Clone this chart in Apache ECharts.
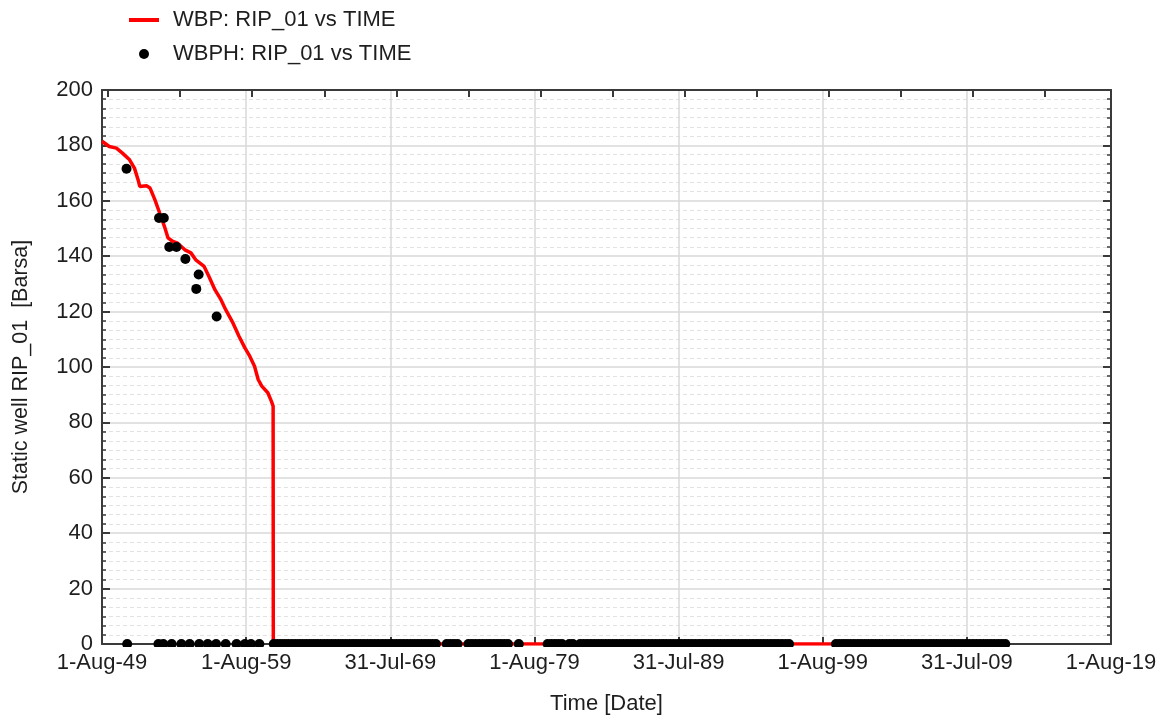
<!DOCTYPE html>
<html>
<head>
<meta charset="utf-8">
<script src="https://cdn.jsdelivr.net/npm/echarts@6/dist/echarts.min.js"></script>
<style>html,body{margin:0;padding:0;background:#fff}#c{width:1171px;height:720px}</style>
</head>
<body>
<div id="c"></div>
<script>
// ---- data ----
const xTickLabels = ['1-Aug-49','1-Aug-59','31-Jul-69','1-Aug-79','31-Jul-89','1-Aug-99','31-Jul-09','1-Aug-19'];
const xStartDate = '1949-08-01';
const xEndDate = '2019-08-01';
const yTicks = [0,20,40,60,80,100,120,140,160,180,200];

const wbpDates = ['1949-08-01','1950-02-01','1950-08-01','1951-01-01','1951-07-01','1951-11-01','1952-02-01','1952-03-15','1952-09-01','1952-12-01','1953-04-01','1953-08-01','1953-12-01','1954-03-01','1954-07-01','1954-11-01','1955-05-01','1955-10-01','1956-02-01','1956-09-01','1957-01-01','1957-06-01','1957-11-01','1958-03-01','1958-09-01','1959-02-01','1959-07-01','1959-11-01','1960-03-01','1960-06-01','1960-09-01','1961-02-01','1961-05-01','1961-06-15','1961-06-20','2012-06-01'];
const wbpValues = [181.5,179.6,179.0,177.2,174.8,171.8,167.6,165.2,165.4,164.6,160.4,155.6,150.7,146.6,145.3,144.7,142.3,141.2,138.7,136.3,132.7,127.9,124.3,120.7,115.9,111.1,106.9,103.9,100.3,95.5,93.1,90.7,87.7,85.9,0,0];

const wbphDates = ['1951-04-15','1953-07-15','1953-11-15','1954-04-01','1954-10-01','1955-05-15','1956-04-15','1956-02-15','1957-07-15'];
const wbphValues = [171.6,153.8,153.8,143.3,143.3,139.0,133.4,128.2,118.2];

// WBPH observations recorded as 0
const wbphZeroDates = [
'1951-05','1953-07','1953-11','1954-06','1955-02','1955-09','1956-05','1956-12','1957-07','1958-03','1958-12','1959-07','1959-12','1960-07',
'1961-07','1961-10',
'1962-01','1962-04','1962-07','1962-10','1963-01','1963-04','1963-07','1963-10',
'1964-01','1964-04','1964-07','1964-10','1965-01','1965-04','1965-07','1965-10',
'1966-01','1966-04','1966-07','1966-10','1967-01','1967-04','1967-07','1967-10',
'1968-01','1968-04','1968-07','1968-10','1969-01','1969-04','1969-07','1969-10',
'1970-01','1970-04','1970-07','1970-10','1971-01','1971-04','1971-07','1971-10',
'1972-01','1972-04','1972-07','1972-10',
'1973-07','1973-10','1974-01','1974-04',
'1975-01','1975-04','1975-07','1975-10','1976-01','1976-04','1976-07','1976-10','1977-01','1977-04','1977-07','1977-10',
'1978-07',
'1980-07','1980-10','1981-01','1981-04','1981-07','1982-01','1982-04',
'1982-10','1983-01','1983-04','1983-07','1983-10','1984-01','1984-04','1984-07','1984-10',
'1985-01','1985-04','1985-07','1985-10','1986-01','1986-04','1986-07','1986-10',
'1987-01','1987-04','1987-07','1987-10','1988-01','1988-04','1988-07','1988-10',
'1989-01','1989-04','1989-07','1989-10','1990-01','1990-04','1990-07','1990-10',
'1991-01','1991-04','1991-07','1991-10','1992-01','1992-04','1992-07','1992-10',
'1993-01','1993-04','1993-07','1993-10','1994-01','1994-04','1994-07','1994-10',
'1995-01','1995-04','1995-07','1995-10','1996-01','1996-04','1996-07','1996-10',
'1997-01','1997-04',
'2000-07','2000-10','2001-01','2001-04','2001-07','2001-10','2002-01','2002-04','2002-07','2002-10',
'2003-01','2003-04','2003-07','2003-10','2004-01','2004-04','2004-07','2004-10',
'2005-01','2005-04','2005-07','2005-10','2006-01','2006-04','2006-07','2006-10',
'2007-01','2007-04','2007-07','2007-10','2008-01','2008-04','2008-07','2008-10',
'2009-01','2009-04','2009-07','2009-10','2010-01','2010-04','2010-07','2010-10',
'2011-01','2011-04','2011-07','2011-10','2012-01','2012-04'
];

// top-axis tick dates (1 Jan every 5 years)
const topTickDates = ['1950-01-01','1955-01-01','1960-01-01','1965-01-01','1970-01-01','1975-01-01','1980-01-01','1985-01-01','1990-01-01','1995-01-01','2000-01-01','2005-01-01','2010-01-01','2015-01-01'];

// ---- helpers ----
const DAY = 86400000;
function parseUTC(s){ const p = s.split('-').map(Number); return Date.UTC(p[0], p[1]-1, p[2]||1); }
const T0 = parseUTC(xStartDate);
function dayOff(s){ return (parseUTC(s) - T0) / DAY; }
const xMax = dayOff(xEndDate);
const xInterval = xMax / (xTickLabels.length - 1);
const MON = ['Jan','Feb','Mar','Apr','May','Jun','Jul','Aug','Sep','Oct','Nov','Dec'];
function fmtDate(v){
  const d = new Date(T0 + Math.floor(v + 1e-6) * DAY);
  return d.getUTCDate() + '-' + MON[d.getUTCMonth()] + '-' + String(d.getUTCFullYear()).slice(2);
}

const wbpData = wbpDates.map((d,i)=>[dayOff(d), wbpValues[i]]);
const wbphData = wbphDates.map((d,i)=>[dayOff(d), wbphValues[i]]).concat(wbphZeroDates.map(d=>[dayOff(d), 0]));

const FONT = "'Liberation Sans', Arial, sans-serif";
const TXT = '#1e1e1e';
const FRAME = '#3a3a3a';

const chart = echarts.init(document.getElementById('c'), null, {renderer:'canvas'});
chart.setOption({
  animation: false,
  backgroundColor: '#ffffff',
  textStyle: { fontFamily: FONT },
  legend: {
    orient: 'vertical', left: 122, top: 4,
    itemWidth: 30, itemHeight: 10, itemGap: 12,
    textStyle: { fontSize: 22, color: TXT, fontFamily: FONT, padding: [0,0,0,9] },
    data: [
      { name: 'WBP: RIP_01 vs TIME', itemStyle: { opacity: 0 }, lineStyle: { width: 4 } },
      { name: 'WBPH: RIP_01 vs TIME', icon: 'circle' }
    ]
  },
  grid: { left: 102, right: 60, top: 90, bottom: 75 },
  graphic: [{
    type: 'rect', z: 100, silent: true,
    shape: { x: 92, y: 647, width: 1030, height: 5 },
    style: { fill: '#ffffff' }
  }],
  xAxis: [{
    type: 'value', position: 'bottom',
    min: 0, max: xMax, interval: xInterval,
    name: 'Time [Date]', nameLocation: 'middle', nameGap: 49,
    nameTextStyle: { fontSize: 22, color: TXT, fontFamily: FONT },
    axisLine: { show: true, onZero: false, lineStyle: { color: FRAME, width: 2 } },
    axisTick: { show: true, inside: true, length: 7, lineStyle: { color: FRAME, width: 2 } },
    axisLabel: { fontSize: 22, color: TXT, fontFamily: FONT, margin: 8, formatter: fmtDate, showMinLabel: true, showMaxLabel: true },
    splitLine: { show: true, lineStyle: { color: '#d8d8d8', width: 1.5 } }
  }, {
    type: 'value', position: 'top',
    min: 0, max: xMax,
    axisLine: { show: true, onZero: false, lineStyle: { color: FRAME, width: 2 } },
    axisTick: { show: true, inside: true, length: 7, lineStyle: { color: FRAME, width: 2 }, customValues: topTickDates.map(dayOff) },
    axisLabel: { show: false },
    splitLine: { show: false }
  }],
  yAxis: [{
    type: 'value', position: 'left',
    min: yTicks[0], max: yTicks[yTicks.length-1], interval: yTicks[1]-yTicks[0],
    name: 'Static well RIP_01  [Barsa]', nameLocation: 'middle', nameGap: 70,
    nameTextStyle: { fontSize: 21.5, color: TXT, fontFamily: FONT },
    axisLine: { show: true, onZero: false, lineStyle: { color: FRAME, width: 2 } },
    axisTick: { show: true, inside: true, length: 8, lineStyle: { color: FRAME, width: 2 } },
    minorTick: { show: true, splitNumber: 6, length: 4, lineStyle: { color: FRAME, width: 1.5 } },
    axisLabel: { fontSize: 22, color: TXT, fontFamily: FONT, margin: 9 },
    splitLine: { show: true, lineStyle: { color: '#d8d8d8', width: 1.5 } },
    minorSplitLine: { show: true, lineStyle: { color: '#e2e2e2', width: 1, type: [4,3] } }
  }, {
    type: 'value', position: 'right',
    min: yTicks[0], max: yTicks[yTicks.length-1], interval: yTicks[1]-yTicks[0],
    axisLine: { show: true, onZero: false, lineStyle: { color: FRAME, width: 2 } },
    axisTick: { show: true, inside: true, length: 8, lineStyle: { color: FRAME, width: 2 } },
    minorTick: { show: true, splitNumber: 6, length: 4, lineStyle: { color: FRAME, width: 1.5 } },
    axisLabel: { show: false },
    splitLine: { show: false }
  }],
  series: [{
    name: 'WBP: RIP_01 vs TIME', type: 'line',
    xAxisIndex: 0, yAxisIndex: 0,
    data: wbpData, symbol: 'none', showSymbol: false,
    color: '#ff0000',
    lineStyle: { color: '#ff0000', width: 3.5 },
    z: 3
  }, {
    name: 'WBPH: RIP_01 vs TIME', type: 'scatter',
    xAxisIndex: 0, yAxisIndex: 0,
    data: wbphData, symbol: 'circle', symbolSize: 10,
    color: '#000000',
    itemStyle: { color: '#000000', opacity: 1 },
    z: 4
  }]
});
</script>
</body>
</html>
